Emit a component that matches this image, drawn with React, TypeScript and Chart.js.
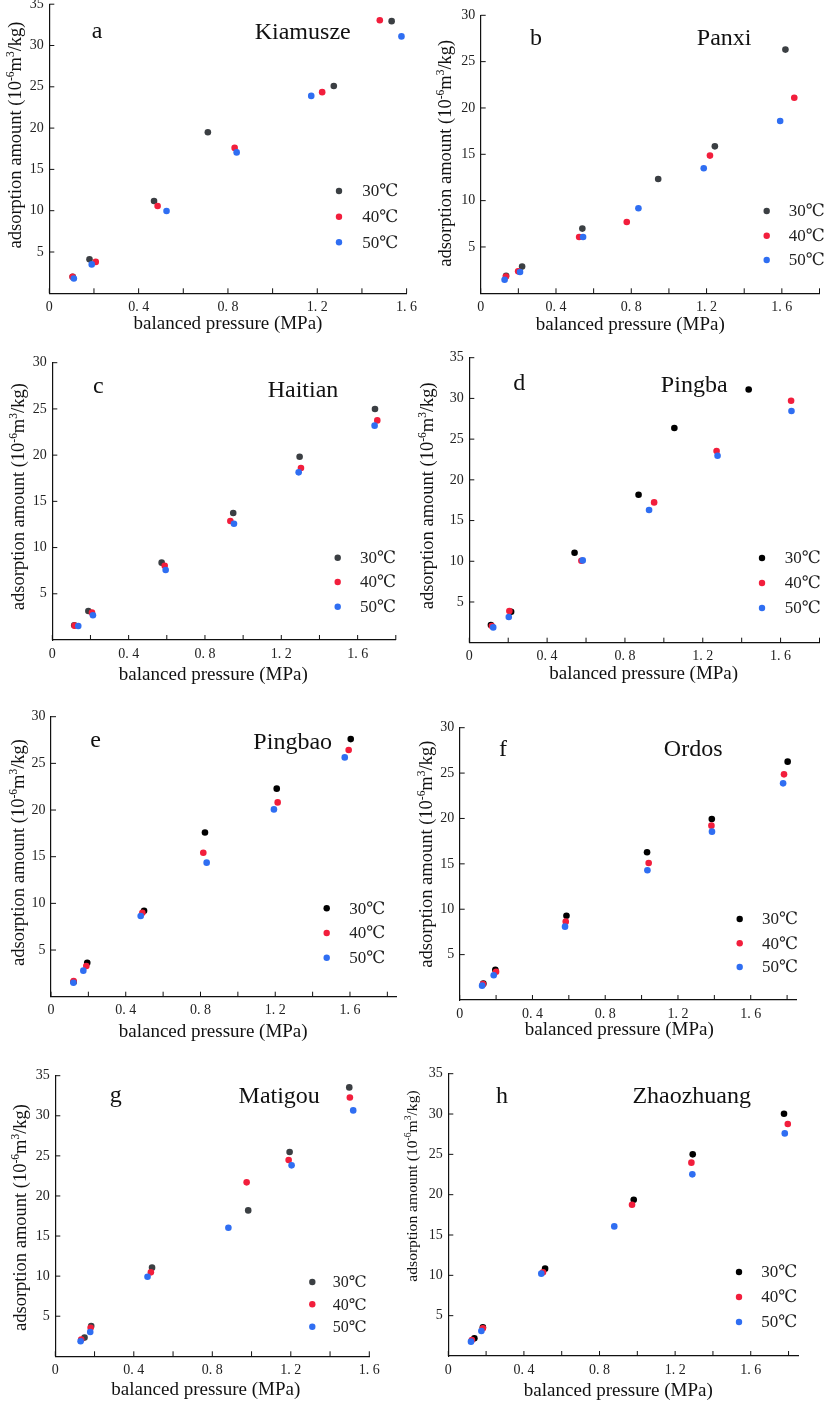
import React, { useEffect, useRef } from "react";
import { Chart, registerables } from "chart.js";

Chart.register(...registerables);

// ---------- shared labels ----------
const temperatureLabels = ["30℃", "40℃", "50℃"];
const xTickValues = [0, 0.4, 0.8, 1.2, 1.6];
const xTickLabels = ["0", "0. 4", "0. 8", "1. 2", "1. 6"];
const xMinorValues = [0, 0.2, 0.4, 0.6, 0.8, 1.0, 1.2, 1.4, 1.6, 1.8];
const yTickValues = [5, 10, 15, 20, 25, 30, 35];
const yTickLabels = ["5", "10", "15", "20", "25", "30", "35"];
const panelLetters = ["a", "b", "c", "d", "e", "f", "g", "h"];
const siteNames = ["Kiamusze", "Panxi", "Haitian", "Pingba", "Pingbao", "Ordos", "Matigou", "Zhaozhuang"];
const xMaxValues = [1.6, 1.8, 1.8, 1.8, 1.85, 1.85, 1.6, 1.85];
const yMaxValues = [35, 30, 30, 35, 30, 30, 35, 35];
const xTitleText = "balanced pressure (MPa)";

// ---------- data: pressure (MPa) and adsorption amount ----------
// a Kiamusze
const aP30 = [0.105, 0.18, 0.469, 0.71, 1.274, 1.533];
const aQ30 = [2.0, 4.11, 11.17, 19.5, 25.1, 32.95];
const aP40 = [0.104, 0.208, 0.485, 0.83, 1.222, 1.48];
const aQ40 = [2.0, 3.8, 10.56, 17.6, 24.35, 33.05];
const aP50 = [0.11, 0.19, 0.525, 0.839, 1.173, 1.577];
const aQ50 = [1.8, 3.5, 9.96, 17.06, 23.9, 31.1];
// b Panxi
const bP30 = [0.135, 0.22, 0.54, 0.943, 1.244, 1.619];
const bQ30 = [1.9, 2.88, 6.98, 12.34, 15.86, 26.3];
const bP40 = [0.134, 0.199, 0.523, 0.776, 1.218, 1.666];
const bQ40 = [1.8, 2.37, 6.08, 7.7, 14.86, 21.1];
const bP50 = [0.127, 0.209, 0.544, 0.838, 1.185, 1.591];
const bQ50 = [1.47, 2.3, 6.08, 9.17, 13.5, 18.6];
// c Haitian
const cP30 = [0.115, 0.189, 0.573, 0.948, 1.296, 1.691];
const cQ30 = [1.6, 3.14, 8.37, 13.74, 19.83, 24.99];
const cP40 = [0.117, 0.208, 0.589, 0.933, 1.303, 1.703];
const cQ40 = [1.55, 2.96, 8.04, 12.87, 18.6, 23.76];
const cP50 = [0.136, 0.213, 0.594, 0.952, 1.291, 1.689];
const cQ50 = [1.51, 2.67, 7.57, 12.58, 18.14, 23.19];
// d Pingba
const dP30 = [0.111, 0.215, 0.541, 0.87, 1.054, 1.436];
const dQ30 = [2.17, 3.81, 11.05, 18.17, 26.36, 31.1];
const dP40 = [0.116, 0.206, 0.576, 0.95, 1.271, 1.654];
const dQ40 = [2.05, 3.89, 10.07, 17.23, 23.54, 29.72];
const dP50 = [0.123, 0.203, 0.583, 0.924, 1.276, 1.656];
const dQ50 = [1.88, 3.15, 10.11, 16.29, 22.96, 28.45];
// e Pingbao
const eP30 = [0.121, 0.194, 0.498, 0.824, 1.208, 1.604];
const eQ30 = [1.57, 3.64, 9.21, 17.6, 22.29, 27.6];
const eP40 = [0.121, 0.189, 0.489, 0.815, 1.213, 1.593];
const eQ40 = [1.68, 3.29, 9.0, 15.43, 20.82, 26.43];
const eP50 = [0.12, 0.173, 0.48, 0.833, 1.193, 1.572];
const eQ50 = [1.5, 2.79, 8.64, 14.36, 20.07, 25.64];
// f Ordos
const fP30 = [0.13, 0.196, 0.587, 1.03, 1.386, 1.803];
const fQ30 = [1.8, 3.34, 9.29, 16.27, 19.94, 26.26];
const fP40 = [0.128, 0.2, 0.583, 1.039, 1.384, 1.783];
const fQ40 = [1.76, 3.12, 8.63, 15.09, 19.21, 24.86];
const fP50 = [0.123, 0.187, 0.579, 1.032, 1.387, 1.778];
const fQ50 = [1.58, 2.72, 8.08, 14.29, 18.55, 23.87];
// g Matigou
const gP30 = [0.149, 0.183, 0.493, 0.983, 1.194, 1.498];
const gQ30 = [2.33, 3.78, 11.06, 18.2, 25.48, 33.54];
const gP40 = [0.132, 0.18, 0.487, 0.975, 1.189, 1.501];
const gQ40 = [2.08, 3.57, 10.47, 21.7, 24.48, 32.29];
const gP50 = [0.129, 0.178, 0.47, 0.882, 1.204, 1.518];
const gQ50 = [1.87, 3.03, 9.93, 16.04, 23.82, 30.67];
// h Zhaozhuang
const hP30 = [0.138, 0.183, 0.512, 0.981, 1.293, 1.776];
const hQ30 = [2.19, 3.55, 10.83, 19.38, 25.0, 30.04];
const hP40 = [0.125, 0.183, 0.501, 0.972, 1.286, 1.796];
const hQ40 = [1.98, 3.43, 10.37, 18.76, 23.97, 28.76];
const hP50 = [0.12, 0.175, 0.492, 0.878, 1.291, 1.78];
const hQ50 = [1.78, 3.1, 10.21, 16.07, 22.52, 27.6];

const panelSeries = [
  [[aP30, aQ30], [aP40, aQ40], [aP50, aQ50]],
  [[bP30, bQ30], [bP40, bQ40], [bP50, bQ50]],
  [[cP30, cQ30], [cP40, cQ40], [cP50, cQ50]],
  [[dP30, dQ30], [dP40, dQ40], [dP50, dQ50]],
  [[eP30, eQ30], [eP40, eQ40], [eP50, eQ50]],
  [[fP30, fQ30], [fP40, fQ40], [fP50, fQ50]],
  [[gP30, gQ30], [gP40, gQ40], [gP50, gQ50]],
  [[hP30, hQ30], [hP40, hQ40], [hP50, hQ50]],
];

// ---------- styles & layout (page pixels) ----------
const GRAY = "#3b3f43";
const BLACK = "#000000";
const RED = "#f21e3c";
const BLUE = "#2f6ef2";
const SERIF = "'Liberation Serif', 'Times New Roman', 'DejaVu Serif', serif";

type Layout = {
  area: number[]; // left, top, right, bottom of plot area
  col: number;
  yTitle: number[]; // cx, cy, size
  xTitle: number[];
  letter: number[];
  site: number[];
  legend: { mx: number; tx: number; ys: number[]; size: number };
  first: string;
};

const layouts: Layout[] = [
  { area: [49.3, 4.2, 406.6, 293.3], col: 0, yTitle: [15, 135, 18.5], xTitle: [228, 324.3], letter: [97, 38], site: [302.7, 39.3], legend: { mx: 339, tx: 362.3, ys: [191, 216.7, 242.3], size: 17 }, first: GRAY },
  { area: [480.7, 15.3, 824.9, 293.3], col: 1, yTitle: [445.3, 153.3, 18.5], xTitle: [630.3, 325], letter: [536, 45.3], site: [724.2, 45.3], legend: { mx: 766.7, tx: 788.7, ys: [211, 235.7, 260], size: 17 }, first: GRAY },
  { area: [52.3, 362.7, 395.8, 640], col: 0, yTitle: [18.3, 496.7, 18.5], xTitle: [213.3, 675], letter: [98.3, 393.3], site: [303, 397.3], legend: { mx: 337.7, tx: 360, ys: [557.7, 582, 606.7], size: 17 }, first: GRAY },
  { area: [469.3, 357.7, 821.1, 642.7], col: 1, yTitle: [427, 495.8, 18.5], xTitle: [643.7, 674.3], letter: [519.3, 390], site: [694.2, 391.7], legend: { mx: 762, tx: 784.7, ys: [558, 583, 608], size: 17 }, first: BLACK },
  { area: [51, 716.7, 396.7, 996.7], col: 0, yTitle: [18.3, 852.5, 18.5], xTitle: [213.2, 1031.7], letter: [95.7, 747.3], site: [292.7, 749], legend: { mx: 326.7, tx: 349.3, ys: [908.3, 933, 957.7], size: 17 }, first: BLACK },
  { area: [459.7, 727.7, 796.2, 1000], col: 1, yTitle: [426, 854.2, 18.5], xTitle: [619.3, 1030], letter: [503, 755.7], site: [693.2, 755.7], legend: { mx: 739.7, tx: 762, ys: [919, 943.3, 967], size: 17 }, first: BLACK },
  { area: [55.3, 1075.7, 369.3, 1356.3], col: 0, yTitle: [20, 1217.5, 18.5], xTitle: [205.8, 1390], letter: [115.7, 1102], site: [279.2, 1103.3], legend: { mx: 312.3, tx: 332.7, ys: [1282, 1304.3, 1326.7], size: 16 }, first: GRAY },
  { area: [448.3, 1073.7, 798, 1356], col: 1, yTitle: [412, 1186, 15.6], xTitle: [618.3, 1391], letter: [502, 1102.7], site: [691.7, 1102.7], legend: { mx: 739, tx: 761.3, ys: [1272, 1297, 1322], size: 17 }, first: BLACK },
];

const Y_AXIS_W = 36;
const X_AXIS_H = 28;

function labelFor(values: number[], labels: string[], v: number) {
  for (let i = 0; i < values.length; i++) {
    if (Math.abs(values[i] - v) < 1e-6) return labels[i];
  }
  return "";
}

const decoPlugin = {
  id: "deco",
  afterDraw(chart: any) {
    const o = chart.options.plugins.deco;
    if (!o) return;
    const ctx = chart.ctx as CanvasRenderingContext2D;
    const ox = o.ox;
    const oy = o.oy;
    const ca = chart.chartArea;
    const xs = chart.scales.x;
    const ys = chart.scales.y;
    ctx.save();
    // inward tick marks
    ctx.strokeStyle = "#111";
    ctx.lineWidth = 1;
    xs.ticks.forEach((t: any) => {
      const px = xs.getPixelForValue(t.value);
      if (px > ca.right + 0.5) return;
      ctx.beginPath();
      ctx.moveTo(px, ca.bottom);
      ctx.lineTo(px, ca.bottom - 5);
      ctx.stroke();
    });
    ys.ticks.forEach((t: any) => {
      const py = ys.getPixelForValue(t.value);
      ctx.beginPath();
      ctx.moveTo(ca.left, py);
      ctx.lineTo(ca.left + 5, py);
      ctx.stroke();
    });

    ctx.fillStyle = "#111";
    // letter & site name
    ctx.font = `24px ${SERIF}`;
    ctx.textAlign = "center";
    ctx.textBaseline = "alphabetic";
    ctx.fillText(o.letterText, o.letter[0] - ox, o.letter[1] - oy);
    ctx.fillText(o.siteText, o.site[0] - ox, o.site[1] - oy);

    // x title
    ctx.font = `19px ${SERIF}`;
    ctx.textBaseline = "middle";
    ctx.fillText(xTitleText, o.xTitle[0] - ox, o.xTitle[1] - oy);

    // y title with superscripts
    const size = o.yTitle[2];
    const supSize = size * 0.62;
    const segs = [
      { t: "adsorption amount (10", s: false },
      { t: "-6", s: true },
      { t: "m", s: false },
      { t: "3", s: true },
      { t: "/kg)", s: false },
    ];
    let total = 0;
    const widths = segs.map((sg) => {
      ctx.font = `${sg.s ? supSize : size}px ${SERIF}`;
      const w = ctx.measureText(sg.t).width;
      total += w;
      return w;
    });
    ctx.save();
    ctx.translate(o.yTitle[0] - ox, o.yTitle[1] - oy);
    ctx.rotate(-Math.PI / 2);
    ctx.textAlign = "left";
    ctx.textBaseline = "alphabetic";
    let x = -total / 2;
    const base = size * 0.33;
    segs.forEach((sg, i) => {
      ctx.font = `${sg.s ? supSize : size}px ${SERIF}`;
      ctx.fillText(sg.t, x, sg.s ? base - size * 0.4 : base);
      x += widths[i];
    });
    ctx.restore();

    // legend
    const lg = o.legend;
    chart.data.datasets.forEach((ds: any, i: number) => {
      const y = lg.ys[i] - oy;
      ctx.beginPath();
      ctx.fillStyle = ds.backgroundColor;
      ctx.arc(lg.mx - ox, y, 3.2, 0, Math.PI * 2);
      ctx.fill();
      ctx.fillStyle = "#222";
      ctx.font = `${lg.size}px ${SERIF}`;
      ctx.textAlign = "left";
      ctx.textBaseline = "middle";
      ctx.fillText(ds.label, lg.tx - ox, y + 1);
    });
    ctx.restore();
  },
};

function Panel({ idx }: { idx: number }) {
  const ref = useRef<HTMLCanvasElement | null>(null);
  const lay = layouts[idx];
  const [L, T, R, B] = lay.area;
  const cx = lay.col === 0 ? 0 : 388;
  const cw = lay.col === 0 ? 432 : 437;
  const cy = Math.floor(T - 25);
  const ch = Math.ceil(B + 50) - cy;

  useEffect(() => {
    if (!ref.current) return;
    const colors = [lay.first, RED, BLUE];
    const datasets = panelSeries[idx].map((pair, k) => ({
      type: "scatter" as const,
      label: temperatureLabels[k],
      data: pair[0].map((p, i) => ({ x: p, y: pair[1][i] })),
      backgroundColor: colors[k],
      borderWidth: 0,
      pointRadius: 3.3,
      pointHoverRadius: 3.3,
      order: 3 - k,
    }));
    const xmax = xMaxValues[idx];
    const ymax = yMaxValues[idx];
    const chart = new Chart(ref.current, {
      type: "scatter",
      data: { datasets },
      options: {
        animation: false,
        responsive: false,
        devicePixelRatio: 1,
        events: [],
        layout: {
          padding: {
            left: L - cx - Y_AXIS_W,
            top: T - cy,
            right: cx + cw - R,
            bottom: cy + ch - B - X_AXIS_H,
          },
        },
        scales: {
          x: {
            type: "linear",
            min: 0,
            max: xmax,
            grid: { display: false, drawTicks: false },
            border: { display: true, color: "#111", width: 1.2 },
            afterBuildTicks: (s: any) => {
              s.ticks = xMinorValues.filter((v) => v <= xmax + 1e-9).map((v) => ({ value: v }));
            },
            afterFit: (s: any) => {
              s.height = X_AXIS_H;
            },
            ticks: {
              autoSkip: false,
              maxRotation: 0,
              minRotation: 0,
              padding: 5.5,
              color: "#222",
              font: { family: SERIF, size: 14 },
              callback: (v: any) => labelFor(xTickValues, xTickLabels, Number(v)),
            },
          },
          y: {
            type: "linear",
            min: 0,
            max: ymax,
            grid: { display: false, drawTicks: false },
            border: { display: true, color: "#111", width: 1.2 },
            afterBuildTicks: (s: any) => {
              s.ticks = yTickValues.filter((v) => v <= ymax + 1e-9).map((v) => ({ value: v }));
            },
            afterFit: (s: any) => {
              s.width = Y_AXIS_W;
            },
            ticks: {
              autoSkip: false,
              padding: 5.5,
              color: "#222",
              font: { family: SERIF, size: 14 },
              callback: (v: any) => labelFor(yTickValues, yTickLabels, Number(v)),
            },
          },
        },
        plugins: {
          legend: { display: false },
          tooltip: { enabled: false },
          deco: {
            ox: cx,
            oy: cy,
            letterText: panelLetters[idx],
            siteText: siteNames[idx],
            letter: lay.letter,
            site: lay.site,
            xTitle: lay.xTitle,
            yTitle: lay.yTitle,
            legend: lay.legend,
          },
        } as any,
      },
      plugins: [decoPlugin],
    } as any);
    return () => chart.destroy();
  }, []);

  return (
    <canvas
      ref={ref}
      width={cw}
      height={ch}
      style={{ position: "absolute", left: cx, top: cy, width: cw, height: ch }}
    />
  );
}

export default function App() {
  return (
    <div
      style={{
        position: "absolute",
        left: 0,
        top: 0,
        width: 825,
        height: 1401,
        overflow: "hidden",
        background: "#fff",
      }}
    >
      {layouts.map((_, i) => (
        <Panel key={i} idx={i} />
      ))}
    </div>
  );
}
